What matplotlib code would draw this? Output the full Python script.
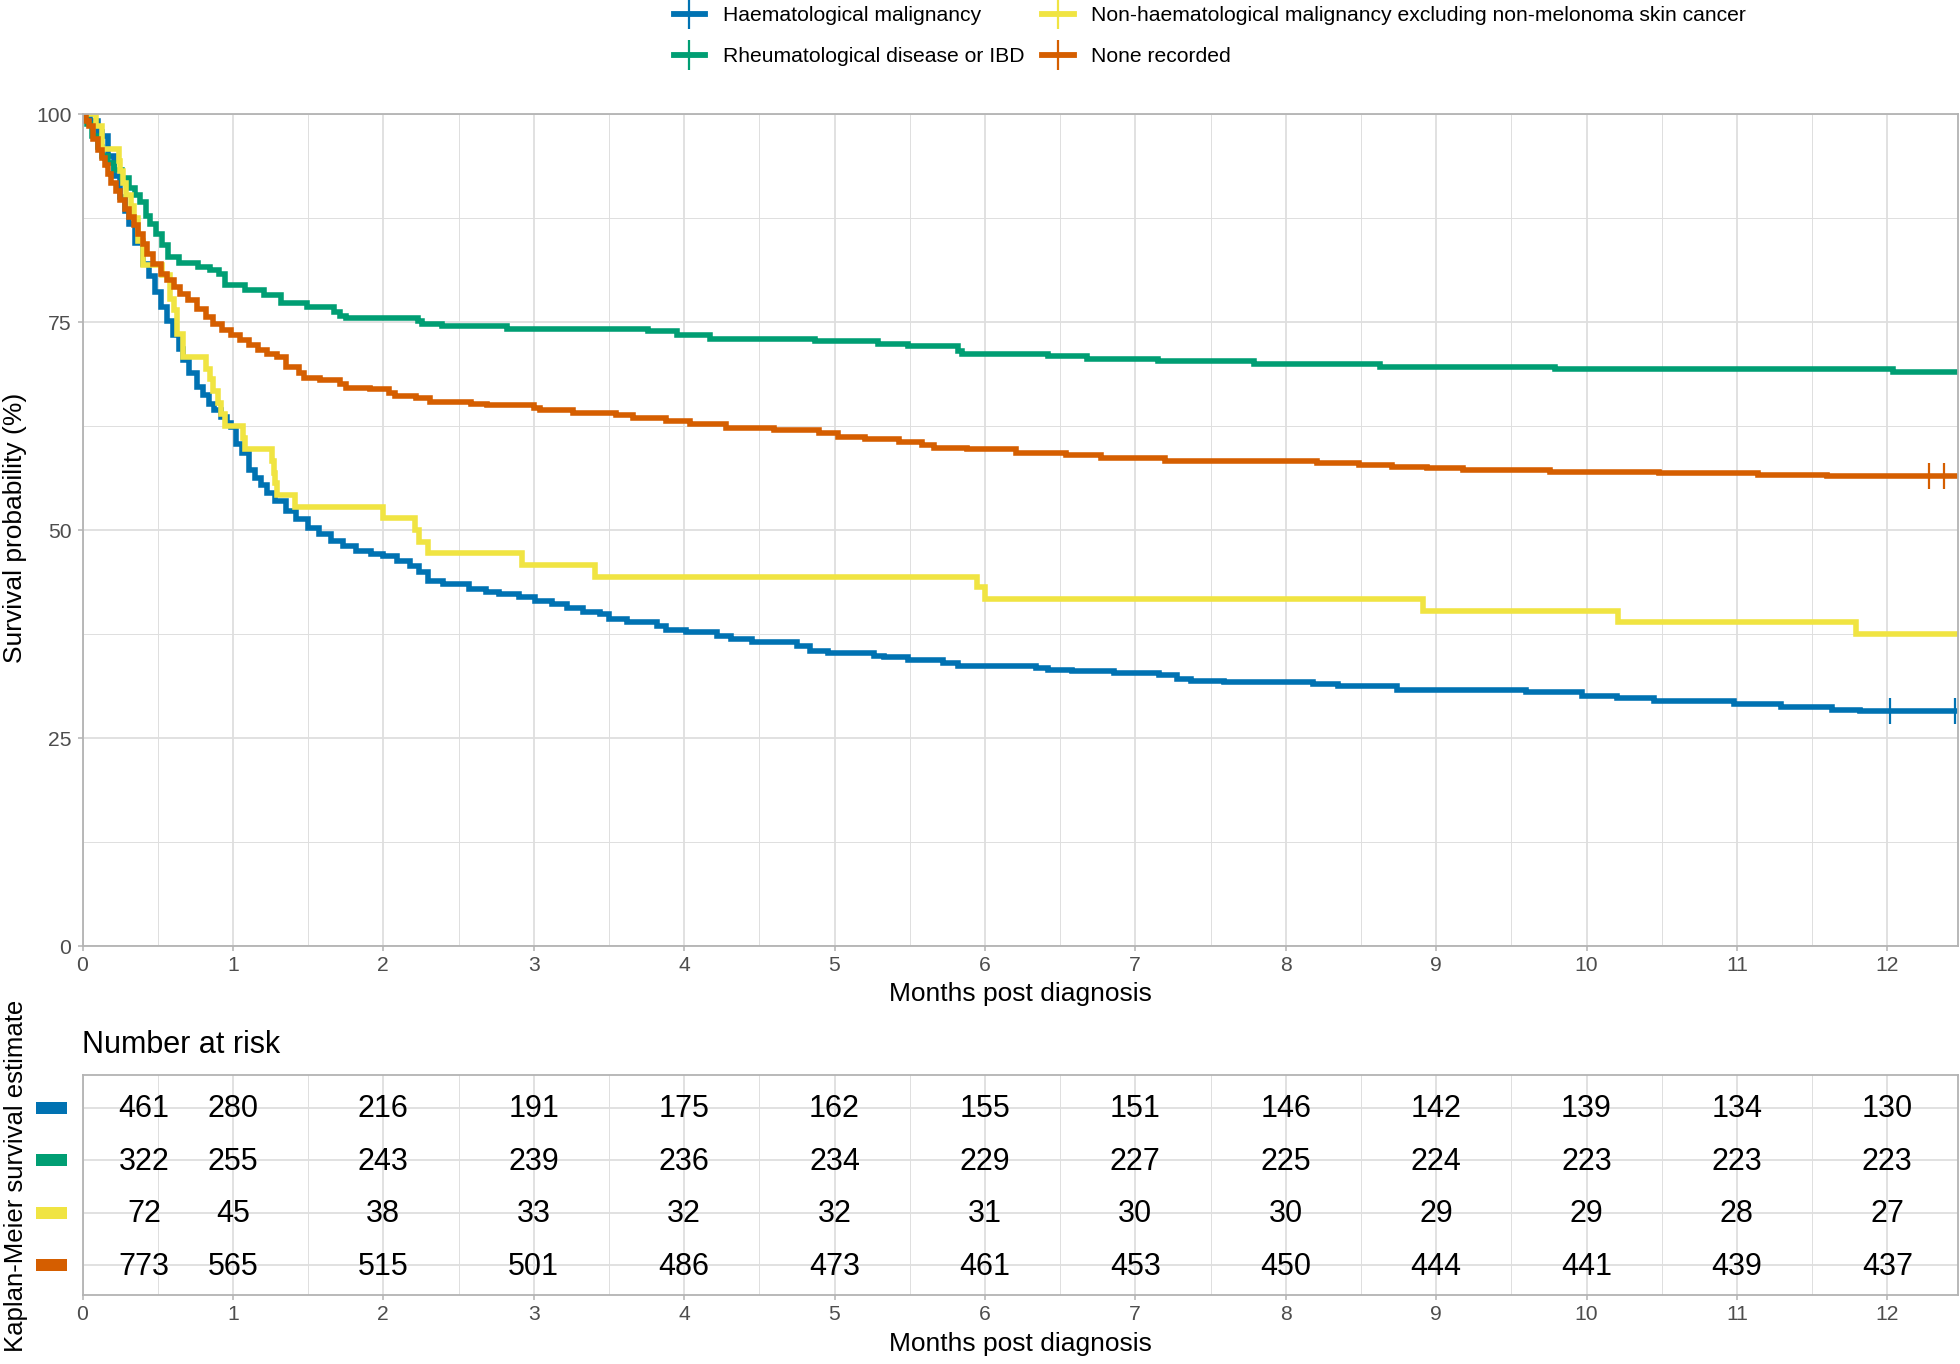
import matplotlib
matplotlib.use("Agg")
import matplotlib.pyplot as plt
import matplotlib.transforms as mtransforms
from matplotlib.lines import Line2D
from matplotlib.patches import Rectangle
from matplotlib.ticker import MultipleLocator
import numpy as np

plt.rcParams['font.family'] = ['Liberation Sans', 'DejaVu Sans']

# Kaplan-Meier curves: (months, survival %)
haem_km = [(0, 100), (0.05, 99.1), (0.10, 97.8), (0.13, 97.3), (0.17, 95.0), (0.21, 92.5),
           (0.25, 90.0), (0.28, 88.3), (0.31, 86.8), (0.35, 84.5), (0.40, 82.0), (0.44, 80.5),
           (0.48, 78.6), (0.52, 76.8), (0.56, 75.1), (0.60, 73.4), (0.64, 71.8), (0.67, 70.4),
           (0.71, 68.9), (0.76, 67.2), (0.80, 66.2), (0.84, 65.2), (0.875, 64.4), (0.92, 63.6),
           (0.96, 62.9), (0.99, 62.4), (1.02, 60.3), (1.06, 59.2), (1.11, 57.2), (1.15, 56.3),
           (1.19, 55.4), (1.23, 54.4), (1.28, 53.5), (1.35, 52.3), (1.42, 51.3), (1.50, 50.3),
           (1.57, 49.5), (1.65, 48.7), (1.73, 48.1), (1.82, 47.5), (1.92, 47.1), (2.00, 46.9),
           (2.09, 46.3), (2.18, 45.7), (2.24, 45.0), (2.30, 43.9), (2.40, 43.5), (2.57, 42.9),
           (2.68, 42.6), (2.77, 42.3), (2.90, 41.9), (3.01, 41.5), (3.12, 41.1), (3.22, 40.6),
           (3.33, 40.2), (3.44, 39.9), (3.50, 39.3), (3.62, 38.95), (3.82, 38.5), (3.88, 38.0),
           (4.01, 37.7), (4.22, 37.2), (4.31, 36.9), (4.45, 36.5), (4.75, 36.1), (4.84, 35.5),
           (4.96, 35.2), (5.26, 34.9), (5.33, 34.7), (5.49, 34.4), (5.72, 34.0), (5.82, 33.7),
           (6.34, 33.4), (6.42, 33.2), (6.58, 33.0), (6.86, 32.8), (7.16, 32.6), (7.28, 32.1),
           (7.37, 31.9), (7.59, 31.7), (8.18, 31.5), (8.35, 31.2), (8.74, 30.8), (9.60, 30.5),
           (9.97, 30.1), (10.20, 29.8), (10.45, 29.4), (10.98, 29.1), (11.29, 28.7),
           (11.63, 28.4), (11.82, 28.2), (12.45, 28.2)]

rheum_km = [(0, 100), (0.03, 98.8), (0.06, 97.3), (0.10, 96.0), (0.13, 95.0), (0.17, 94.1),
            (0.21, 93.3), (0.26, 92.3), (0.31, 91.1), (0.35, 90.3), (0.38, 89.4), (0.42, 87.8),
            (0.45, 86.8), (0.49, 85.6), (0.53, 84.2), (0.57, 82.8), (0.64, 82.1), (0.77, 81.6),
            (0.85, 81.2), (0.91, 80.8), (0.95, 79.4), (1.08, 78.8), (1.21, 78.3), (1.32, 77.3),
            (1.49, 76.8), (1.67, 76.2), (1.71, 75.7), (1.75, 75.5), (2.23, 75.1), (2.26, 74.8),
            (2.39, 74.5), (2.82, 74.2), (3.76, 73.9), (3.95, 73.4), (4.17, 73.0), (4.87, 72.7),
            (5.29, 72.4), (5.49, 72.1), (5.82, 71.5), (5.85, 71.2), (6.42, 70.9), (6.68, 70.6),
            (7.15, 70.3), (7.79, 69.95), (8.63, 69.65), (9.79, 69.35), (12.04, 69.0),
            (12.47, 69.0)]

nonhaem_km = [(0, 100), (0.09, 98.6), (0.13, 95.8), (0.24, 94.4), (0.25, 93.1), (0.27, 91.7),
              (0.29, 90.3), (0.32, 88.9), (0.34, 87.5), (0.37, 84.7), (0.40, 81.9), (0.53, 80.6),
              (0.58, 77.8), (0.61, 76.4), (0.63, 73.6), (0.67, 70.8), (0.82, 69.4), (0.85, 68.1),
              (0.87, 66.7), (0.90, 65.3), (0.92, 63.9), (0.95, 62.5), (1.07, 61.1), (1.08, 59.7),
              (1.26, 58.3), (1.27, 56.9), (1.28, 55.6), (1.29, 54.2), (1.41, 52.8), (2.00, 51.4),
              (2.21, 50.0), (2.24, 48.6), (2.30, 47.2), (2.92, 45.8), (3.41, 44.4), (5.95, 43.1),
              (6.00, 41.7), (8.91, 40.3), (10.21, 38.9), (11.79, 37.5), (12.47, 37.5)]

none_km = [(0, 100), (0.02, 99.2), (0.04, 98.5), (0.07, 97.0), (0.10, 95.7), (0.13, 94.7),
           (0.15, 93.9), (0.17, 92.8), (0.19, 91.7), (0.22, 90.7), (0.25, 89.7), (0.28, 88.6),
           (0.31, 87.6), (0.34, 86.6), (0.37, 85.6), (0.40, 84.4), (0.43, 83.2), (0.47, 82.0),
           (0.52, 80.8), (0.56, 80.0), (0.61, 79.2), (0.65, 78.4), (0.70, 77.6), (0.76, 76.6),
           (0.82, 75.6), (0.87, 74.8), (0.93, 74.0), (0.99, 73.4), (1.05, 72.8), (1.11, 72.2),
           (1.17, 71.6), (1.23, 71.2), (1.29, 70.8), (1.35, 69.6), (1.44, 68.9), (1.47, 68.3),
           (1.58, 68.0), (1.71, 67.6), (1.75, 67.1), (1.91, 66.9), (2.04, 66.5), (2.08, 66.1),
           (2.22, 65.9), (2.31, 65.4), (2.58, 65.1), (2.69, 65.0), (3.00, 64.7), (3.04, 64.4),
           (3.26, 64.1), (3.55, 63.8), (3.66, 63.5), (3.88, 63.1), (4.04, 62.8), (4.28, 62.3),
           (4.60, 62.0), (4.90, 61.6), (5.02, 61.2), (5.20, 60.9), (5.43, 60.6), (5.58, 60.2),
           (5.66, 59.9), (5.88, 59.7), (6.21, 59.3), (6.54, 59.0), (6.77, 58.7), (7.07, 58.6),
           (7.20, 58.3), (8.21, 58.0), (8.49, 57.8), (8.71, 57.6), (8.94, 57.4), (9.18, 57.2),
           (9.76, 57.0), (10.48, 56.9), (10.65, 56.8), (11.14, 56.6), (11.60, 56.5),
           (12.47, 56.5)]

# censored observations (months)
haem_censor = [12.02, 12.45]
rheum_censor = []
nonhaem_censor = []
none_censor = [12.28, 12.38]

# number at risk table
risk_times = [0.41, 1, 2, 3, 4, 5, 6, 7, 8, 9, 10, 11, 12]
risk_haem = [461, 280, 216, 191, 175, 162, 155, 151, 146, 142, 139, 134, 130]
risk_rheum = [322, 255, 243, 239, 236, 234, 229, 227, 225, 224, 223, 223, 223]
risk_nonhaem = [72, 45, 38, 33, 32, 32, 31, 30, 30, 29, 29, 28, 27]
risk_none = [773, 565, 515, 501, 486, 473, 461, 453, 450, 444, 441, 439, 437]

labels = ['Haematological malignancy', 'Rheumatological disease or IBD',
          'Non-haematological malignancy excluding non-melonoma skin cancer', 'None recorded']
colours = ['#0072B2', '#009E73', '#F0E442', '#D55E00']
curves = [haem_km, rheum_km, nonhaem_km, none_km]
censors = [haem_censor, rheum_censor, nonhaem_censor, none_censor]
risks = [risk_haem, risk_rheum, risk_nonhaem, risk_none]

W, H = 1960, 1364
XMAX = 12.47
grid_col = '#DEDEDE'
frame_col = '#B3B3B3'
tick_txt = '#4D4D4D'


def light_theme(ax):
    ax.set_facecolor('white')
    for s in ax.spines.values():
        s.set_color(frame_col)
        s.set_linewidth(1.3)
    ax.xaxis.set_major_locator(MultipleLocator(1))
    ax.xaxis.set_minor_locator(MultipleLocator(0.5))
    ax.grid(which='major', color=grid_col, linewidth=1.3)
    ax.grid(which='minor', color=grid_col, linewidth=0.7)
    ax.set_axisbelow(True)
    ax.tick_params(which='major', color=frame_col, length=3.5, width=1.1,
                   labelsize=15.2, labelcolor=tick_txt, pad=3.5)
    ax.tick_params(which='minor', length=0)
    ax.set_xlim(0, XMAX)


fig = plt.figure(figsize=(W / 100, H / 100), dpi=100)

# ---- survival curves
ax = fig.add_axes([82.5 / W, 1 - 946 / H, (1958 - 82.5) / W, (946 - 114) / H])
light_theme(ax)
ax.set_ylim(0, 100)
ax.yaxis.set_major_locator(MultipleLocator(25))
ax.yaxis.set_minor_locator(MultipleLocator(12.5))
ax.tick_params(axis='y', which='major', pad=4.5)

handles = []
for km, cens, col, lab in zip(curves, censors, colours, labels):
    t = np.array([p[0] for p in km])
    s = np.array([p[1] for p in km])
    ax.step(t, s, where='post', color=col, linewidth=4.0, solid_joinstyle='miter')
    if cens:
        idx = np.searchsorted(t, cens, side='right') - 1
        ax.plot(cens, s[idx], linestyle='none', marker='|', markersize=19,
                markeredgewidth=1.6, color=col, clip_on=False)
    handles.append(Line2D([0], [0], color=col, linewidth=4.2, marker='|',
                          markersize=21, markeredgewidth=1.6, label=lab))

fig.text(15 / W, 1 - 528 / H, 'Survival probability (%)', rotation=90,
         ha='center', va='center', fontsize=19)
fig.text((82.5 + 1958) / 2 / W, 1 - 994 / H, 'Months post diagnosis',
         ha='center', va='center', fontsize=19)

# legend: Haem / Rheum in column 1, Non-haem / None in column 2
fig.legend(handles=handles, loc='upper left', bbox_to_anchor=(673.6 / W, 1 - 6 / H),
           ncol=2, frameon=False, fontsize=15.2, handlelength=1.5,
           handletextpad=0.84, columnspacing=0.83, labelspacing=1.05,
           borderpad=0, borderaxespad=0, numpoints=1)

# ---- number at risk table
axr = fig.add_axes([82.5 / W, 1 - 1295 / H, (1958 - 82.5) / W, (1295 - 1075) / H])
light_theme(axr)
rows = [4, 3, 2, 1]
axr.set_ylim(0.43, 4.62)
axr.set_yticks(rows)
axr.tick_params(axis='y', length=0, labelleft=False)

for row, risk in zip(rows, risks):
    for x, n in zip(risk_times, risk):
        axr.text(x, row - 0.03, str(n), ha='center', va='center', fontsize=22, color='black')

trans = mtransforms.blended_transform_factory(fig.transFigure, axr.transData)
for row, col in zip(rows, colours):
    axr.add_patch(Rectangle((36 / W, row - 0.115), 31 / W, 0.23, transform=trans,
                            facecolor=col, edgecolor='none', clip_on=False))

fig.text(82.5 / W, 1 - 1045 / H, 'Number at risk', ha='left', va='center', fontsize=22)
fig.text((82.5 + 1958) / 2 / W, 1 - 1344 / H, 'Months post diagnosis',
         ha='center', va='center', fontsize=19)
fig.text(16 / W, 1 - 1176 / H, 'Kaplan-Meier survival estimate', rotation=90,
         ha='center', va='center', fontsize=18.5)

fig.savefig('out.png', dpi=100)
